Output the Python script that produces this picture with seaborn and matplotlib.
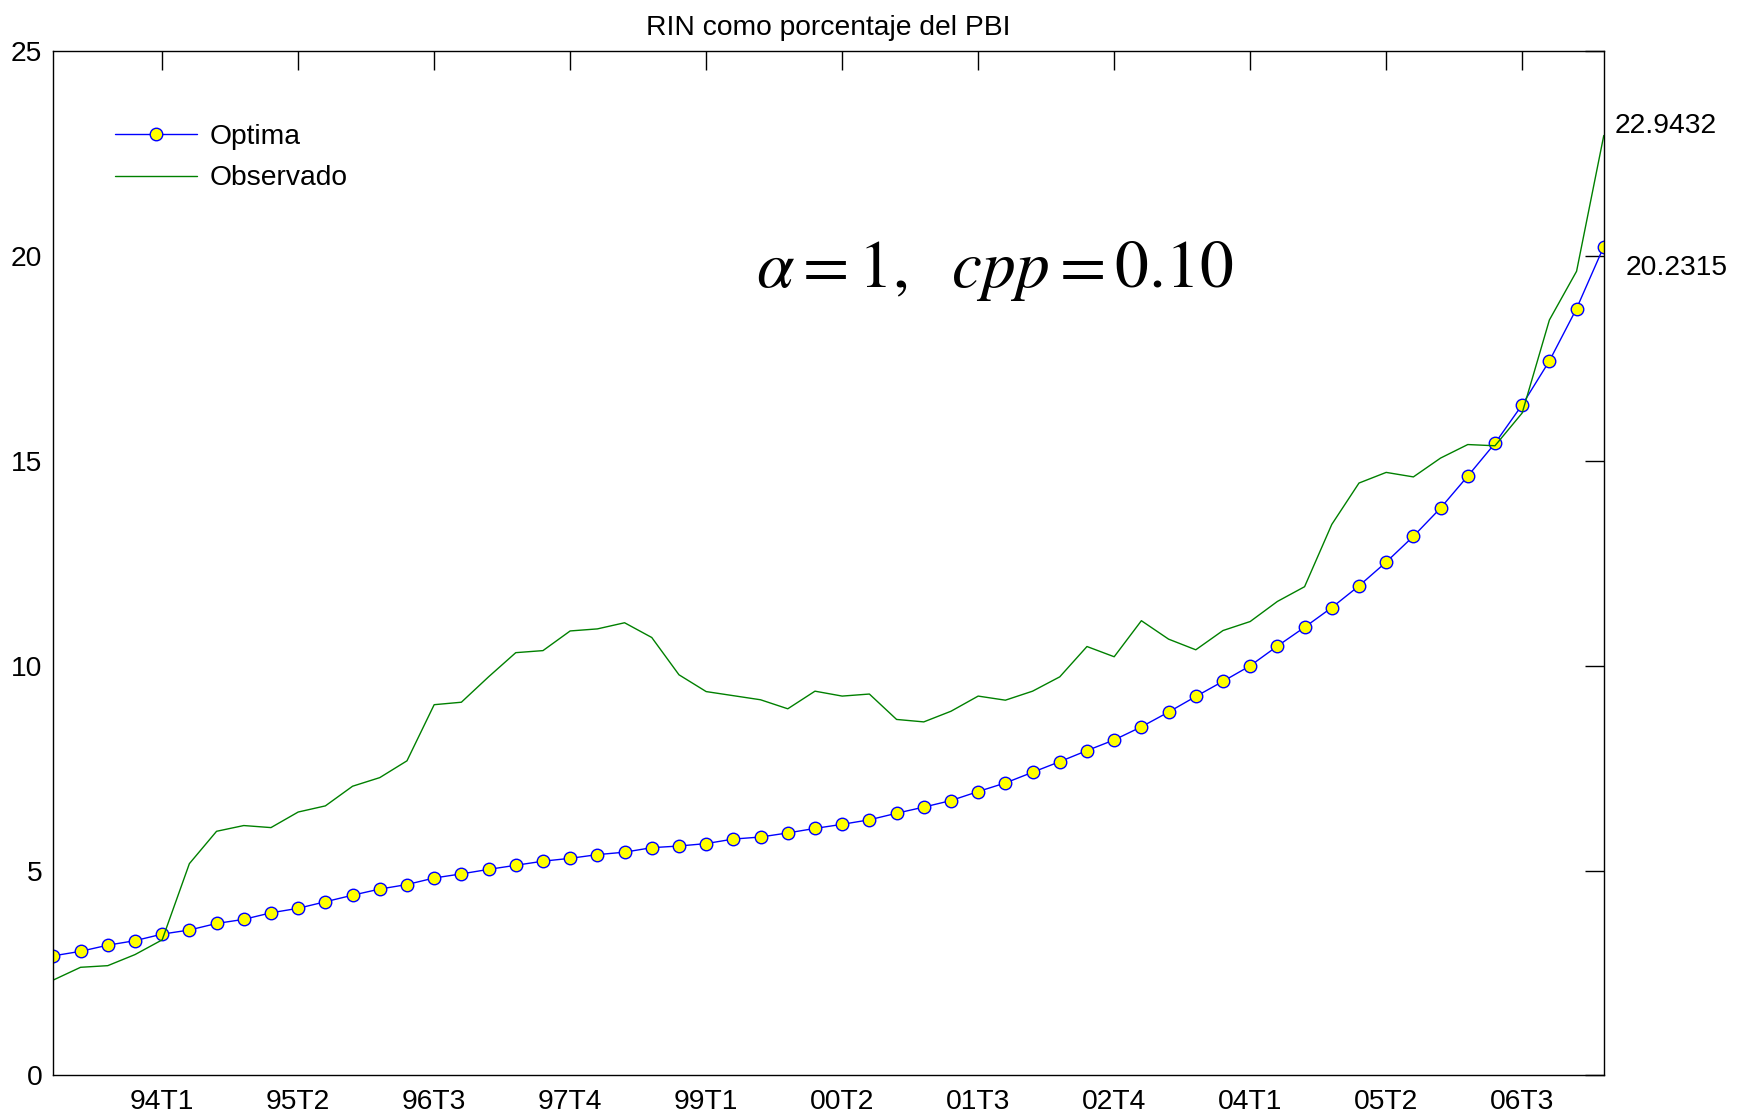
import pandas as pd
import seaborn as sns
import matplotlib.pyplot as plt

# quarterly periods 93T1 .. 07T2
quarters = [f'{y % 100:02d}T{q}' for y in range(1993, 2008) for q in range(1, 5)][:58]

optima = [2.92, 3.03, 3.18, 3.29, 3.45, 3.55, 3.71, 3.81, 3.97, 4.08,
          4.24, 4.40, 4.55, 4.66, 4.82, 4.92, 5.03, 5.13, 5.23, 5.30,
          5.39, 5.45, 5.56, 5.60, 5.66, 5.77, 5.82, 5.92, 6.03, 6.13,
          6.24, 6.40, 6.55, 6.71, 6.93, 7.14, 7.40, 7.66, 7.93, 8.19,
          8.51, 8.87, 9.25, 9.62, 10.00, 10.48, 10.94, 11.42, 11.95, 12.53,
          13.16, 13.85, 14.63, 15.43, 16.37, 17.44, 18.72, 20.2315]

observado = [2.33, 2.64, 2.68, 2.95, 3.31, 5.17, 5.96, 6.10, 6.05, 6.43,
             6.58, 7.06, 7.27, 7.68, 9.05, 9.11, 9.73, 10.32, 10.37, 10.85,
             10.90, 11.05, 10.69, 9.78, 9.37, 9.27, 9.17, 8.95, 9.38, 9.26,
             9.31, 8.69, 8.63, 8.89, 9.26, 9.16, 9.38, 9.73, 10.47, 10.22,
             11.10, 10.65, 10.39, 10.86, 11.08, 11.57, 11.93, 13.45, 14.46, 14.72,
             14.61, 15.07, 15.40, 15.37, 16.17, 18.44, 19.63, 22.9432]

tick_pos = list(range(4, 58, 5))
tick_labels = [quarters[i] for i in tick_pos]
y_ticks = [0, 5, 10, 15, 20, 25]

df = pd.DataFrame({'t': range(len(quarters)), 'Optima': optima, 'Observado': observado})

sns.set_style('white')
plt.rcParams['font.family'] = ['Liberation Sans', 'DejaVu Sans']
plt.rcParams['mathtext.fontset'] = 'stix'
for k in ['text.color', 'axes.labelcolor', 'xtick.color', 'ytick.color', 'axes.edgecolor']:
    plt.rcParams[k] = 'black'
fs = 20.3

fig = plt.figure(figsize=(17.44, 11.14), dpi=100)
ax = fig.add_axes([0.0306, 0.0346, 0.889, 0.9194])

sns.lineplot(data=df, x='t', y='Optima', ax=ax, color='blue', lw=1,
             marker='o', markersize=9, markerfacecolor='yellow',
             markeredgecolor='blue', markeredgewidth=1, label='Optima')
sns.lineplot(data=df, x='t', y='Observado', ax=ax, color=(0, 0.5, 0), lw=1,
             label='Observado')

ax.set_xlim(0, len(quarters) - 1)
ax.set_ylim(0, 25)
ax.set_xticks(tick_pos)
ax.set_xticklabels(tick_labels)
ax.set_yticks(y_ticks)
ax.set_xlabel('')
ax.set_ylabel('')
ax.tick_params(direction='in', length=14, width=1, top=True, right=True,
               labelsize=fs, color='black', labelcolor='black')
ax.tick_params(axis='x', pad=10)
ax.tick_params(axis='y', pad=8)
for s in ax.spines.values():
    s.set_color('black')
    s.set_linewidth(1)

ax.set_title('RIN como porcentaje del PBI', fontsize=fs, pad=12, color='black')

ax.text(57.4, 23.18, f'{observado[-1]:.4f}', va='center', ha='left', fontsize=fs, clip_on=False)
ax.text(57.8, 19.71, f'{optima[-1]:.4f}', va='center', ha='left', fontsize=fs, clip_on=False)

ax.text(0.607, 0.785, r'$\alpha = 1,\ \ cpp = 0.10$', transform=ax.transAxes,
        ha='center', va='center', fontsize=48.5)

ax.legend(loc='upper left', bbox_to_anchor=(0.04, 0.929), frameon=False, fontsize=fs,
          handlelength=2.9, handletextpad=0.45, borderpad=0, borderaxespad=0,
          labelspacing=0.55)

fig.savefig('out.png', dpi=100)
